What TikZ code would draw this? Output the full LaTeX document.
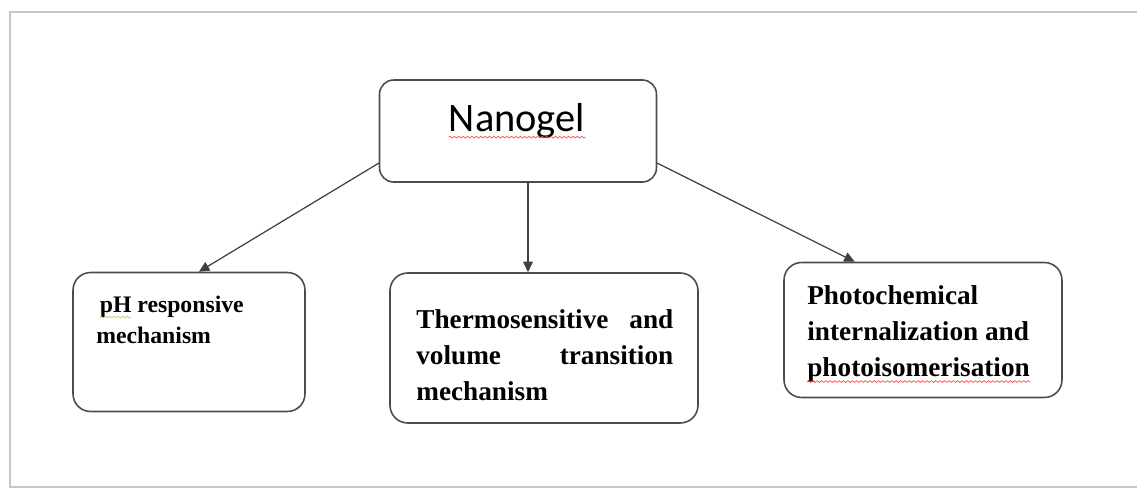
\documentclass[tikz,border=0pt]{standalone}
\usepackage{fontspec}
\setmainfont{Liberation Serif}
\newfontfamily\calibri{Carlito}
\usetikzlibrary{arrows.meta,decorations.pathmorphing}

\tikzset{
  mechbox/.style={draw=black!70, line width=0.9pt, rounded corners=10pt},
  mechtext/.style={font=\bfseries\fontsize{15.5}{20.5}\selectfont, inner sep=0pt, anchor=north west},
  link/.style={draw=black!75, line width=0.7pt, -{Triangle[length=6pt,width=5.5pt]}},
  spellwave/.style={draw=red!70, line width=0.4pt, decorate, decoration={snake, amplitude=0.5pt, segment length=2.5pt}}
}

\begin{document}
\begin{tikzpicture}[x=0.02cm,y=-0.02cm]
  \useasboundingbox (0,0) rectangle (1137,490);
  % outer frame
  \draw[black!22, line width=1.6pt] (1137,12) -- (10,12) -- (10,487) -- (1137,487);

  % boxes
  \node[mechbox, rounded corners=8pt, minimum width=5.54cm, minimum height=2.04cm] (nanogel) at (518,131) {};
  \node[mechbox, minimum width=4.64cm, minimum height=2.78cm] (ph) at (189,342) {};
  \node[mechbox, minimum width=6.16cm, minimum height=3.0cm] (thermo) at (544,348) {};
  \node[mechbox, minimum width=5.56cm, minimum height=2.7cm] (photo) at (923,330) {};

  % texts
  \node[inner sep=0pt, anchor=base, font=\calibri\fontsize{23}{27}\selectfont] (nanogel text) at (517,131) {Nanogel};
  \node[mechtext, font=\bfseries\fontsize{13.5}{17.6}\selectfont, align=left] (ph text) at (96,296)
    {\hspace{2pt}pH responsive\\mechanism};
  \node[mechtext, text width=5.14cm, align=justify] (thermo text) at (416,309)
    {Thermosensitive and\linebreak volume transition\linebreak mechanism};
  \node[mechtext, align=left] (photo text) at (807,285)
    {Photochemical\\internalization and\\photoisomerisation};

  % spelling marks
  \draw[spellwave] ([yshift=-3.5pt]nanogel text.base west) -- ([yshift=-3.5pt]nanogel text.base east);
  \draw[spellwave] ([yshift=0.5pt]photo text.south west) -- ([yshift=0.5pt]photo text.south east);
  \draw[spellwave, draw=olive!45] ([xshift=2pt,yshift=-12pt]ph text.north west) -- ++(18pt,0);

  % arrows
  \draw[link] (nanogel.193) -- (ph.82);
  \draw[link] ([xshift=0.2cm]nanogel.south) -- ([xshift=0.2cm]nanogel.south |- thermo.north);
  \draw[link] (nanogel.347) -- (photo.135);
\end{tikzpicture}
\end{document}
